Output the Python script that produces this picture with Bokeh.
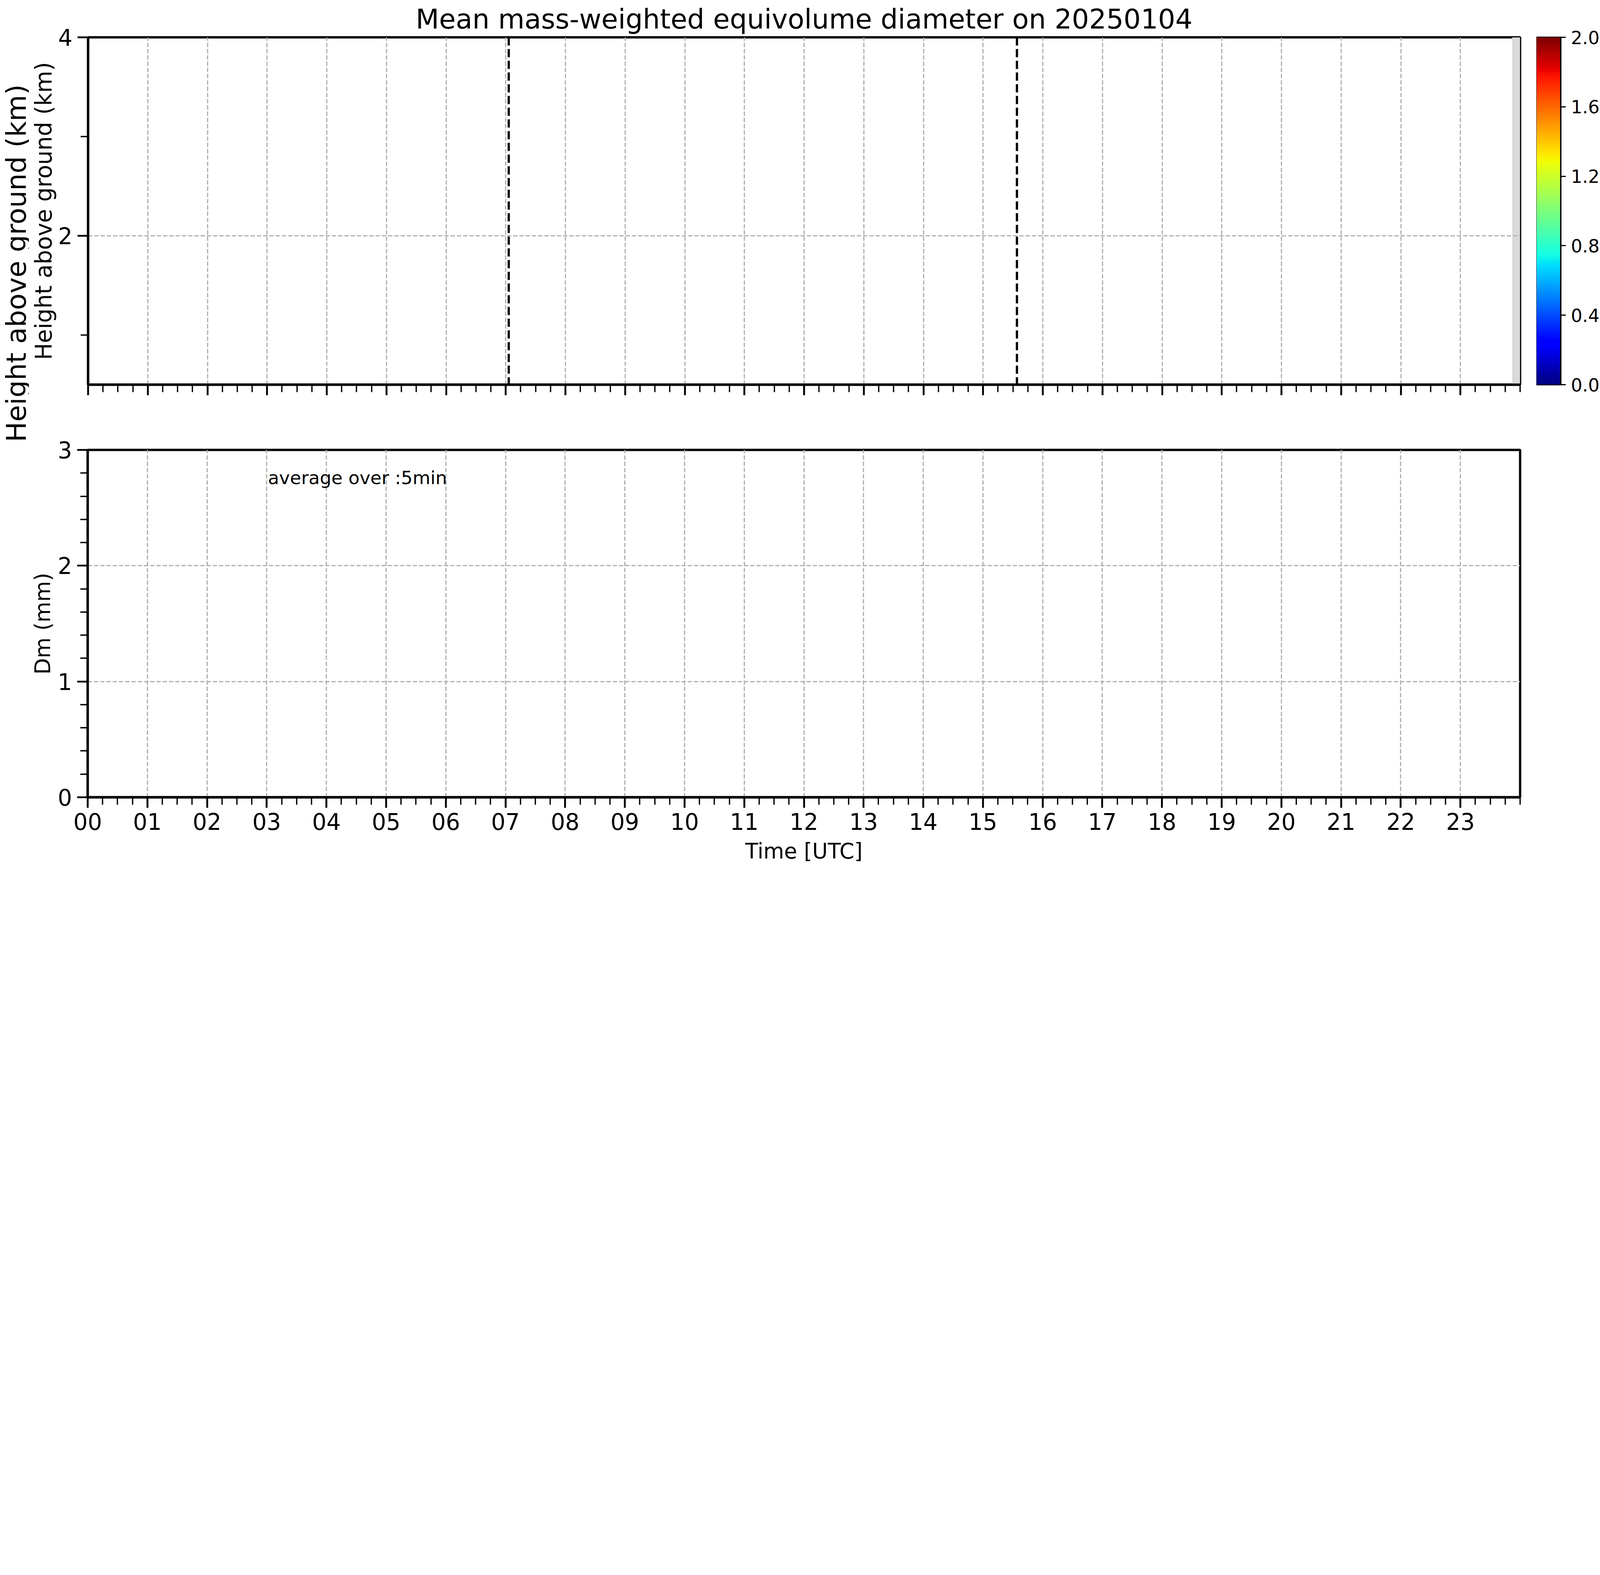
import numpy as np
from bokeh.plotting import figure
from bokeh.models import (Range1d, FixedTicker, LinearColorMapper, Label, Span,
                          PrintfTickFormatter, ColumnDataSource)
from bokeh.layouts import column, row
from bokeh.embed import file_html
from bokeh.resources import INLINE

# ---------------- data ----------------
TITLE = "Mean mass-weighted equivolume diameter on 20250104"
hours_major = list(range(24))
hour_labels = ["00", "01", "02", "03", "04", "05", "06", "07", "08", "09", "10", "11",
               "12", "13", "14", "15", "16", "17", "18", "19", "20", "21", "22", "23"]
hours_minor = [q / 4 for q in range(97)]
time_range_h = [0.0, 24.0]

height_km_ticks = [2, 4]
height_km_minor = [1, 3]
height_km_range = [0.5, 4.0]

dm_ticks = [0, 1, 2, 3]
dm_minor = [0.2, 0.4, 0.6, 0.8, 1.2, 1.4, 1.6, 1.8, 2.2, 2.4, 2.6, 2.8]
dm_range = [0.0, 3.0]

event_times_h = [7.05, 15.567]      # black dashed vertical markers
nodata_start_h = [23.867]            # grey "no data" band at end of day
nodata_end_h = [24.0]

cbar_ticks = [0.0, 0.4, 0.8, 1.2, 1.6, 2.0]
cbar_range = [0.0, 2.0]

dm_series_time = []                  # empty Dm time series (no data this day)
dm_series_value = []

# ---------------- geometry (CSS px; the page is shot at 1.8x) ----------------
K = 1.8
PAGE0 = 8 * K
FONT = "DejaVu Sans"
GRID_COLOR = "#b0b0b0"


def fs(ref_px):
    return "%.1fpx" % (ref_px / K)


W = 4170
LA = 74                  # left strip holding the figure-level y title
LB = 150                 # left border of the plots (ticks, tick labels, axis title)
FRAME_W = 3667
TOP_RB = 42
CB_W = 62
CB_RB = 104
CBL_W = W - LA - LB - FRAME_W - TOP_RB - CB_W - CB_RB
FRAME_H = 889
H1 = 1070
TOP_TB = 95
TOP_BB = H1 - TOP_TB - FRAME_H
H2 = 1152
BOT_TB = 81
BOT_BB = H2 - BOT_TB - FRAME_H
BOT_RB = W - LA - LB - FRAME_W


def jet_palette(n=256):
    xs = np.linspace(0, 1, n)
    r = np.interp(xs, [0, 0.35, 0.66, 0.89, 1], [0, 0, 1, 1, 0.5])
    g = np.interp(xs, [0, 0.125, 0.375, 0.64, 0.91, 1], [0, 0, 1, 1, 0, 0])
    b = np.interp(xs, [0, 0.11, 0.34, 0.65, 1], [0.5, 1, 1, 0, 0])
    return ["#%02x%02x%02x" % (int(round(R * 255)), int(round(G * 255)), int(round(B * 255)))
            for R, G, B in zip(r, g, b)]


def style_axis(ax):
    ax.axis_line_width = 10.5 / K
    ax.axis_line_color = "black"
    ax.major_tick_out = 27
    ax.major_tick_in = 0
    ax.major_tick_line_width = 8.5 / K
    ax.major_tick_line_color = "black"
    ax.minor_tick_out = 19
    ax.minor_tick_in = 0
    ax.minor_tick_line_width = 6 / K
    ax.minor_tick_line_color = "black"
    ax.major_label_text_font = FONT
    ax.major_label_text_font_size = fs(104)
    ax.major_label_text_color = "black"
    ax.axis_label_text_font = FONT
    ax.axis_label_text_font_style = "normal"
    ax.axis_label_text_color = "black"
    ax.axis_label_text_line_height = 1.0


def make_fig(width, height, yr, lb, rb, tb, bb):
    p = figure(width=width, height=height,
               x_range=Range1d(*time_range_h), y_range=Range1d(*yr),
               output_backend="svg", toolbar_location=None,
               min_border_left=lb, min_border_right=rb,
               min_border_top=tb, min_border_bottom=bb)
    p.outline_line_color = "black"
    p.outline_line_width = 10.5 / K
    p.background_fill_color = "white"
    p.border_fill_color = "white"
    style_axis(p.xaxis[0])
    style_axis(p.yaxis[0])
    p.xaxis[0].ticker = FixedTicker(ticks=hours_major, minor_ticks=hours_minor)
    p.xaxis[0].major_label_overrides = {h: lab for h, lab in zip(hours_major, hour_labels)}
    p.yaxis[0].major_label_standoff = 13
    p.grid.grid_line_color = GRID_COLOR
    p.grid.grid_line_width = 5.6 / K
    p.grid.grid_line_dash = "11 5"
    return p


def text_strip(width, height, x0_ref, y0_ref, tb=0, bb=0):
    """Axis-less strip whose data units are reference pixels (y downward, negated)."""
    fy0 = y0_ref + tb * K
    fy1 = y0_ref + (height - bb) * K
    p = figure(width=width, height=height,
               x_range=Range1d(x0_ref, x0_ref + width * K),
               y_range=Range1d(-fy1, -fy0),
               x_axis_type=None, y_axis_type=None,
               min_border_left=0, min_border_right=0,
               min_border_top=tb, min_border_bottom=bb,
               output_backend="svg", toolbar_location=None)
    p.outline_line_color = None
    p.background_fill_color = "white"
    p.border_fill_color = "white"
    p.grid.visible = False
    return p


def vlabel(p, x, y, text, size):
    p.add_layout(Label(x=x, y=y, text=text, angle=np.pi / 2,
                       text_align="center", text_baseline="alphabetic",
                       text_font=FONT, text_font_size=size, text_color="black"))


# ---------------- top panel (height profile) ----------------
top = make_fig(LB + FRAME_W + TOP_RB, H1, height_km_range, LB, TOP_RB, TOP_TB, TOP_BB)
top.title.text = TITLE
top.title.text_font = FONT
top.title.text_font_size = fs(125)
top.title.text_font_style = "normal"
top.title.text_color = "black"
top.title.align = "center"
top.title.standoff = 13

top.yaxis[0].ticker = FixedTicker(ticks=height_km_ticks, minor_ticks=height_km_minor)
top.yaxis[0].axis_label = "Height above ground (km)"
top.yaxis[0].axis_label_text_font_size = fs(104)
top.yaxis[0].axis_label_standoff = 0
top.xaxis[0].major_label_text_font_size = "0px"
top.xaxis[0].major_label_overrides = {h: "" for h in hours_major}

top.quad(left=nodata_start_h, right=nodata_end_h,
         bottom=[height_km_range[0]] * len(nodata_start_h),
         top=[height_km_range[1]] * len(nodata_start_h),
         fill_color="#d9d9d9", line_color=None, level="image")

for t in event_times_h:
    top.add_layout(Span(location=t, dimension="height", line_color="black",
                        line_width=10.4 / K, line_dash="21 9"))

# colour bar figure
mapper = LinearColorMapper(palette=jet_palette(), low=cbar_range[0], high=cbar_range[1])
cbf = figure(width=CB_W + CB_RB, height=H1,
             x_range=Range1d(0, 1), y_range=Range1d(*cbar_range),
             x_axis_type=None, y_axis_location="right",
             min_border_left=0, min_border_right=CB_RB,
             min_border_top=TOP_TB, min_border_bottom=TOP_BB,
             output_backend="svg", toolbar_location=None)
cbf.grid.visible = False
cbf.outline_line_color = "black"
cbf.outline_line_width = 6 / K
cbf.border_fill_color = "white"
grad = np.linspace(cbar_range[0], cbar_range[1], 256).reshape(256, 1)
cbf.image(image=[grad], x=0, y=cbar_range[0], dw=1, dh=cbar_range[1] - cbar_range[0],
          color_mapper=mapper)
cax = cbf.yaxis[0]
cax.ticker = FixedTicker(ticks=cbar_ticks)
cax.formatter = PrintfTickFormatter(format="%.1f")
cax.axis_line_color = "black"
cax.axis_line_width = 6 / K
cax.major_tick_out = 13
cax.major_tick_in = 0
cax.major_tick_line_color = "black"
cax.major_tick_line_width = 5.6 / K
cax.minor_tick_line_color = None
cax.major_label_text_font = FONT
cax.major_label_text_font_size = fs(83)
cax.major_label_text_color = "black"
cax.major_label_standoff = 13

# strip with the colour-bar title (frame aligned with the top plot frame)
cbl_x0 = PAGE0 + (LA + LB + FRAME_W + TOP_RB + CB_W + CB_RB) * K
cbl = text_strip(CBL_W, H1, cbl_x0, PAGE0, TOP_TB, TOP_BB)
vlabel(cbl, 7457.0, -991.0, "Dm (mm)", fs(83))

# ---------------- bottom panel (Dm time series) ----------------
bot = make_fig(W - LA, H2, dm_range, LB, BOT_RB, BOT_TB, BOT_BB)
bot.yaxis[0].ticker = FixedTicker(ticks=dm_ticks, minor_ticks=dm_minor)
bot.yaxis[0].axis_label = "Dm (mm)"
bot.yaxis[0].axis_label_text_font_size = fs(98)
bot.yaxis[0].axis_label_standoff = 4
bot.xaxis[0].axis_label = "Time [UTC]"
bot.xaxis[0].axis_label_text_font_size = fs(98)
bot.xaxis[0].major_label_standoff = 13
bot.xaxis[0].axis_label_standoff = 20

src = ColumnDataSource(data=dict(t=dm_series_time, dm=dm_series_value))
bot.line(x="t", y="dm", source=src, line_color="black", line_width=6 / K)

bot.add_layout(Label(x=3.02, y=2.76, text="average over :5min",
                     text_align="left", text_baseline="alphabetic",
                     text_font=FONT, text_font_size=fs(84), text_color="black"))

# ---------------- left strip with the figure-level y title ----------------
lab = text_strip(LA, H1 + H2, PAGE0, PAGE0)
vlabel(lab, 89.0, -1226.0, "Height above ground (km)", fs(125))

layout = row(lab, column(row(top, cbf, cbl), bot))
open("out.html", "w").write(file_html(layout, INLINE))
